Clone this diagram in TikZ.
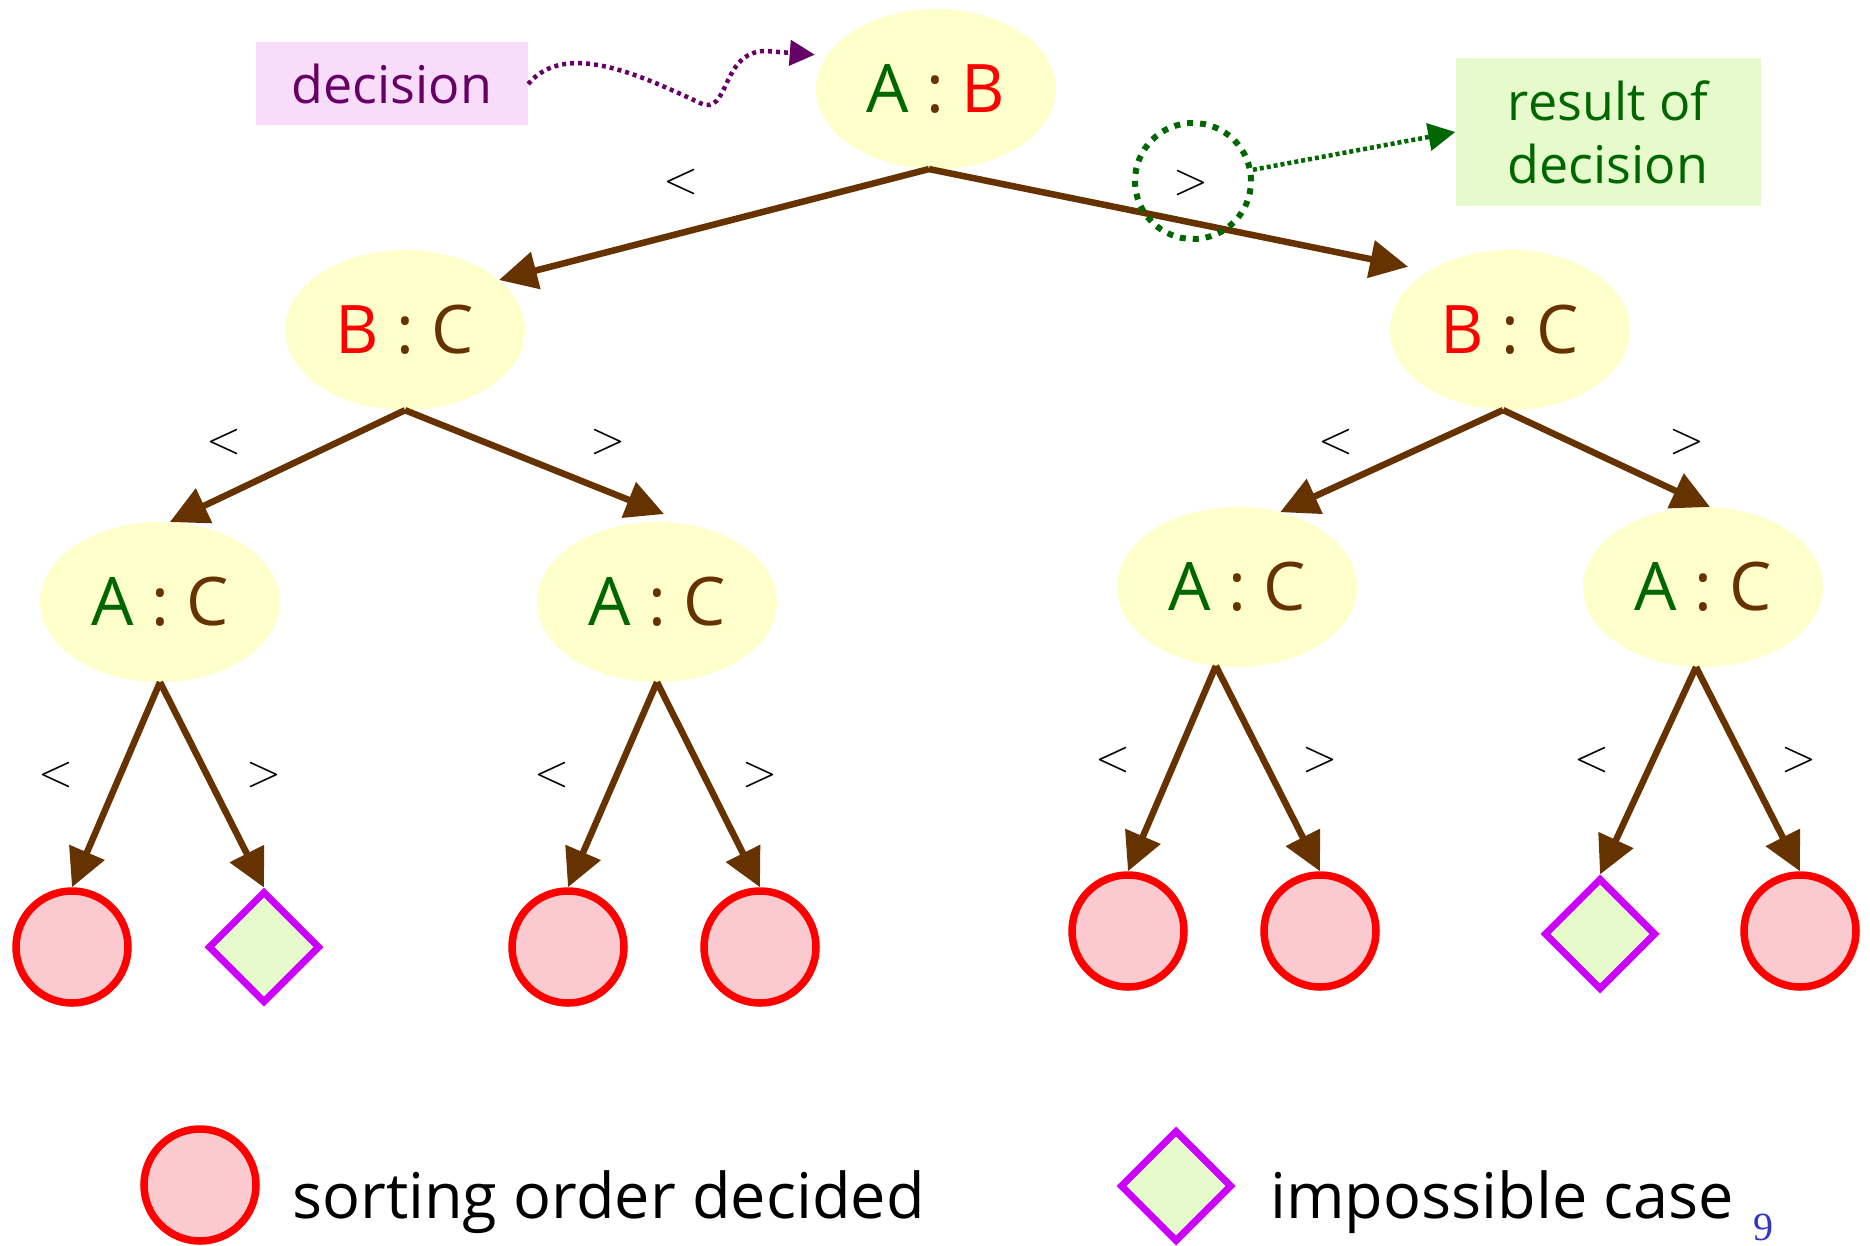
\documentclass[tikz,border=0pt]{standalone}
\usepackage{fontspec}
\newfontfamily\hand{Open Sans}
\newfontfamily\numfont{Liberation Serif}
\usetikzlibrary{arrows.meta,shapes.geometric}
\definecolor{nodefill}{HTML}{FFFFCC}
\definecolor{agreen}{HTML}{006600}
\definecolor{cbrown}{HTML}{663300}
\definecolor{bred}{HTML}{FF0000}
\definecolor{decfill}{HTML}{F9DCFA}
\definecolor{decpurple}{HTML}{660066}
\definecolor{resfill}{HTML}{E6FACC}
\definecolor{leaffill}{HTML}{FBCACE}
\definecolor{impline}{HTML}{CC00FF}
\definecolor{pagenum}{HTML}{3333CC}
\newcommand{\At}{\textcolor{agreen}{A}}
\newcommand{\Bt}{\textcolor{bred}{B}}
\newcommand{\Ct}{\textcolor{cbrown}{C}}
\newcommand{\Co}{\textcolor{cbrown}{:}}
\begin{document}
\begin{tikzpicture}[x=1pt,y=-1pt,
  cmp/.style={ellipse, fill=nodefill, minimum width=240pt, minimum height=160pt,
    inner sep=0pt, font=\hand\fontsize{67}{67}\selectfont},
  arr/.style={draw=cbrown, line width=6.5pt, -{Triangle[length=38pt,width=37pt]}},
  leaf/.style={circle, draw=bred, line width=7.5pt, fill=leaffill, minimum size=112pt, inner sep=0pt},
  imp/.style={diamond, aspect=1, draw=impline, line width=7pt, fill=resfill, minimum size=112pt, inner sep=0pt},
  rel/.style={inner sep=0pt, font=\fontsize{46}{46}\selectfont},
  note/.style={inner sep=0pt, font=\hand\fontsize{52}{63}\selectfont, align=center},
  legend/.style={inner sep=0pt, anchor=base west, font=\hand\fontsize{63}{63}\selectfont}
]
\useasboundingbox (0,0) rectangle (1870,1246);

% decision nodes
\node[cmp] (root) at (936,89) {\At\ \Co\ \Bt};
\node[cmp] (bcl) at (405,330) {\Bt\ \Co\ \Ct};
\node[cmp] (bcr) at (1510,330) {\Bt\ \Co\ \Ct};
\node[cmp] (acl1) at (160,602) {\At\ \Co\ \Ct};
\node[cmp] (acl2) at (657,602) {\At\ \Co\ \Ct};
\node[cmp] (acr1) at (1237,587) {\At\ \Co\ \Ct};
\node[cmp] (acr2) at (1703,587) {\At\ \Co\ \Ct};

% leaves
\node[leaf] (l1) at (72,947) {};
\node[imp]  (l2) at (264,947) {};
\node[leaf] (l3) at (568,947) {};
\node[leaf] (l4) at (760,947) {};
\node[leaf] (r1) at (1128,931) {};
\node[leaf] (r2) at (1320,931) {};
\node[imp]  (r3) at (1600,934) {};
\node[leaf] (r4) at (1800,931) {};

% connectors
\draw[arr] (root.265) -- (bcl.28);
\draw[arr, shorten >=21pt] (root.265) -- (bcr.144);
\draw[arr] (bcl.south) -- (acl1.83);
\draw[arr, shorten >=84pt] (bcl.south) -- (acl2.north east);
\draw[arr] (bcr.265) -- (acr1.60);
\draw[arr] (bcr.265) -- (acr2.85);
\draw[arr] (acl1.south) -- (l1.north);
\draw[arr] (acl1.south) -- (l2.north);
\draw[arr] (acl2.south) -- (l3.north);
\draw[arr] (acl2.south) -- (l4.north);
\draw[arr] (acr1.255) -- (r1.north);
\draw[arr] (acr1.255) -- (r2.north);
\draw[arr] (acr2.265) -- (r3.north);
\draw[arr] (acr2.265) -- (r4.north);

% comparison labels
\node[rel] (g1) at (681,182) {<};
\node[rel] (g2) at (1191,183) {>};
\node[rel] (g3) at (224,442) {<};
\node[rel] (g4) at (608,442) {>};
\node[rel] (g5) at (1336,442) {<};
\node[rel] (g6) at (1687,442) {>};
\node[rel] (g7) at (56,775) {<};
\node[rel] (g8) at (264,775) {>};
\node[rel] (g9) at (552,775) {<};
\node[rel] (g10) at (760,775) {>};
\node[rel] (g11) at (1113,760) {<};
\node[rel] (g12) at (1320,760) {>};
\node[rel] (g13) at (1592,760) {<};
\node[rel] (g14) at (1799,760) {>};

% annotations
\node[note, fill=decfill, text=decpurple, minimum width=272pt, minimum height=83pt] (dec) at (392,84) {decision};
\draw[decpurple, line width=4.5pt, dash pattern=on 4pt off 4pt,
      -{Triangle[length=25pt,width=25pt]}, shorten >=12pt]
  (dec.east) .. controls (565,40) and (640,75) .. (700,103)
  .. controls (730,117) and (720,52) .. (765,51) -- (root.163);

\node[note, fill=resfill, text=agreen, minimum width=305pt, minimum height=148pt] (res) at (1608,132) {result of\\decision};
\node[circle, draw=agreen, line width=6pt, dash pattern=on 6pt off 7pt,
      minimum size=116pt, inner sep=0pt] (gc) at (1193,181) {};
\draw[agreen, line width=4.5pt, dash pattern=on 4pt off 3pt,
      -{Triangle[length=27pt,width=27pt]}] (gc) -- (res.west);

% legend
\node[leaf] (kl) at (200,1185) {};
\node[legend] (kt) at (292,1218) {sorting order decided};
\node[imp] (kd) at (1176,1186) {};
\node[legend] (kt2) at (1270,1218) {impossible case};
\node[inner sep=0pt, anchor=base, text=pagenum, font=\numfont\fontsize{40}{40}\selectfont] (pg) at (1763,1240) {9};
\end{tikzpicture}
\end{document}
